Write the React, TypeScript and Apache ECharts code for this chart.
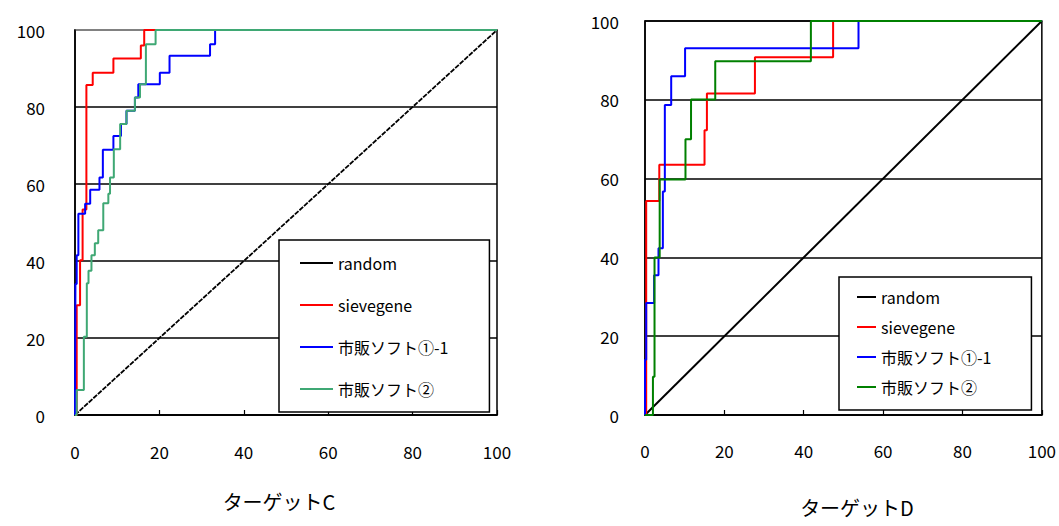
import React, { useEffect, useRef } from "react";
import * as echarts from "echarts";

const seriesNames = ["random", "sievegene", "市販ソフト①-1", "市販ソフト②"];
const axisMin = 0;
const axisMax = 100;
const axisStep = 20;
const titleC = "ターゲットC";
const titleD = "ターゲットD";

// random baseline (diagonal)
const randomLine = [[0, 0], [100, 100]];

// Target C (left) — [x, y]: at x the curve steps up to y
const sievegeneC = [[0, 0], [0.4, 28.5], [1.2, 40.2], [1.8, 53.4], [2.7, 85.7], [4.2, 88.9], [9.1, 92.6], [15.6, 96], [16.4, 100], [100, 100]];
const soft1C = [[0, 0], [0.1, 34], [0.4, 41.5], [0.8, 52.3], [2.4, 54.9], [3.6, 58.5], [5.8, 61.7], [6.6, 68.9], [9.1, 72.5], [10.9, 75.6], [12.2, 79], [14.2, 82.5], [15, 85.9], [20.1, 88.9], [22.4, 93.3], [32, 96.3], [33.2, 100], [100, 100]];
const soft2C = [[0, 0], [0.4, 6.5], [2.1, 20.3], [2.8, 34.2], [3.2, 37.5], [3.9, 41.5], [4.7, 44.6], [5.5, 48], [6.7, 55], [7.9, 57.5], [8.3, 61.7], [9.2, 69], [10.7, 75.6], [12.2, 79], [14.2, 82.5], [15.4, 85.9], [16.8, 96.3], [19.1, 100], [100, 100]];

// Target D (right)
const sievegeneD = [[0, 0], [0.3, 54.3], [3.6, 63.5], [15.0, 72.3], [15.6, 81.6], [27.7, 90.8], [47.4, 100], [100, 100]];
const soft1D = [[0, 0], [0, 14], [0.3, 28.4], [2.3, 35.5], [3.4, 42.3], [4.5, 56.7], [5.0, 78.7], [6.6, 86], [10.1, 93.1], [53.8, 100], [100, 100]];
const soft2D = [[0, 0], [2.0, 9.7], [2.4, 40], [3.7, 59.8], [10.2, 70], [11.6, 80.1], [17.7, 89.8], [41.8, 100], [100, 100]];

const FONT = "'Noto Sans CJK JP', 'Noto Sans', sans-serif";

export default function App() {
  const ref = useRef<HTMLDivElement>(null);
  useEffect(() => {
    if (!ref.current) return;
    const chart = echarts.init(ref.current, null, { renderer: "svg" });

    const mkX = (idx: number, margin: number) => ({
      type: "value",
      gridIndex: idx,
      min: axisMin,
      max: axisMax,
      interval: axisStep,
      axisLine: { show: true, lineStyle: { color: "#000", width: 1.5 } },
      axisTick: { show: true, inside: true, length: 5, lineStyle: { color: "#000", width: 1.2 } },
      axisLabel: { color: "#000", fontSize: 17, fontFamily: FONT, margin },
      splitLine: { show: false },
    });
    const mkY = (idx: number, margin: number, topColor: string) => ({
      type: "value",
      gridIndex: idx,
      min: axisMin,
      max: axisMax,
      interval: axisStep,
      axisLine: { show: true, lineStyle: { color: "#000", width: 1.5 } },
      axisTick: { show: false },
      axisLabel: { color: "#000", fontSize: 17, fontFamily: FONT, margin },
      splitLine: {
        show: true,
        lineStyle: { color: ["#000", "#000", "#000", "#000", "#000", topColor], width: 1.5 },
      },
    });

    const colorsC = ["#000", "#ff0000", "#0000ff", "#3fa874"];
    const colorsD = ["#000", "#ff0000", "#0000ff", "#008000"];
    const dataC = [randomLine, sievegeneC, soft1C, soft2C];
    const dataD = [randomLine, sievegeneD, soft1D, soft2D];

    const mkSeries = (idx: number, data: number[][][], colors: string[], randomDash: boolean) =>
      seriesNames.map((name, i) => ({
        type: "line",
        name,
        xAxisIndex: idx,
        yAxisIndex: idx,
        data: data[i],
        step: i === 0 ? false : "end",
        symbol: "none",
        showSymbol: false,
        clip: false,
        color: colors[i],
        itemStyle: { color: colors[i] },
        lineStyle: {
          color: colors[i],
          width: i === 0 ? (randomDash ? 1.8 : 2) : 2,
          type: i === 0 && randomDash ? [5, 1.2] : "solid",
        },
        z: 3 + i,
      }));

    const legendData = (colors: string[]) =>
      seriesNames.map((name, i) => ({ name, itemStyle: { color: colors[i] } }));

    const legendBase = {
      orient: "vertical",
      backgroundColor: "#fff",
      borderColor: "#000",
      borderWidth: 1.5,
      itemHeight: 16,
      symbolKeepAspect: true,
      textStyle: { fontSize: 16, color: "#000", fontFamily: FONT },
      selectedMode: false,
      z: 20,
    };

    chart.setOption({
      animation: false,
      backgroundColor: "#fff",
      grid: [
        { left: 75, top: 30, width: 422, height: 385, show: true, borderColor: "#000", borderWidth: 1.5 },
        { left: 645, top: 21, width: 398, height: 394, show: true, borderColor: "#000", borderWidth: 1.5 },
      ],
      xAxis: [mkX(0, 28), mkX(1, 27)],
      yAxis: [mkY(0, 30, "#999"), mkY(1, 26, "#000")],
      legend: [
        { ...legendBase, data: legendData(colorsC), left: 279, top: 240, padding: [15, 41, 15, 21], itemWidth: 33, itemGap: 26, icon: "path://M0,0L33,0L33,2L0,2Z" },
        { ...legendBase, data: legendData(colorsD), left: 839, top: 277, padding: [12, 40, 15, 18], itemWidth: 19, itemGap: 14, icon: "path://M0,0L19,0L19,2L0,2Z" },
      ],
      graphic: [
        {
          type: "text",
          x: 279,
          y: 501,
          style: { text: titleC, fontSize: 20, fontFamily: FONT, fill: "#000", align: "center", verticalAlign: "middle", textAlign: "center", textVerticalAlign: "middle" },
        },
        {
          type: "text",
          x: 857,
          y: 507,
          style: { text: titleD, fontSize: 20, fontFamily: FONT, fill: "#000", align: "center", verticalAlign: "middle", textAlign: "center", textVerticalAlign: "middle" },
        },
      ],
      series: [...mkSeries(0, dataC, colorsC, true), ...mkSeries(1, dataD, colorsD, false)],
    });

    return () => chart.dispose();
  }, []);

  return <div ref={ref} style={{ position: "fixed", left: 0, top: 0, width: 1059, height: 526 }} />;
}
